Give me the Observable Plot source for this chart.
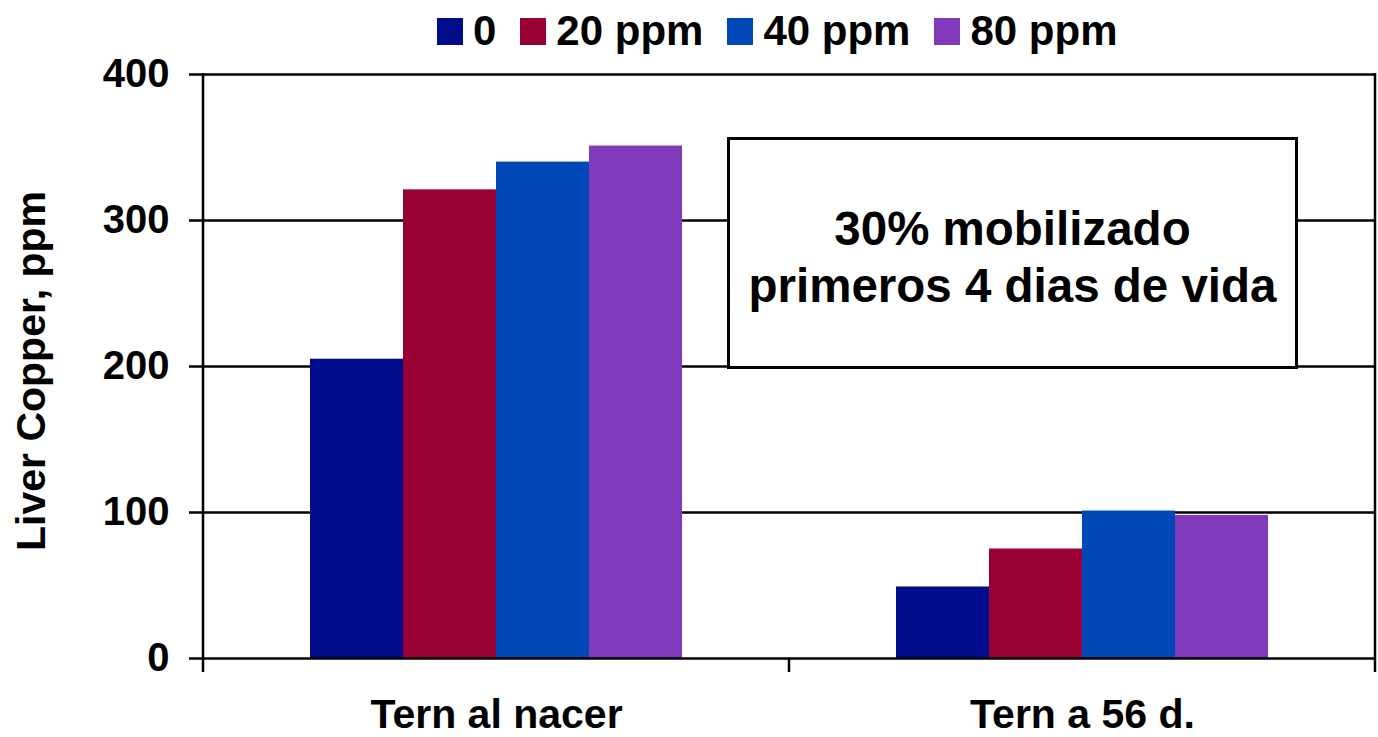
<!DOCTYPE html>
<html>
<head>
<meta charset="utf-8">
<script src="https://cdn.jsdelivr.net/npm/d3@7"></script>
<script src="https://cdn.jsdelivr.net/npm/@observablehq/plot@0.6"></script>
<style>
  html, body { margin: 0; padding: 0; background: #fff; }
  body { font-family: "Liberation Sans", Arial, sans-serif; font-weight: bold; color: #000; }
  #wrap { position: relative; width: 1378px; height: 737px; overflow: hidden; }
  #legend { position: relative; height: 50px; }
  .lg-sq { position: absolute; top: 18px; width: 26px; height: 27px; }
  .lg-tx { position: absolute; top: 10px; font-size: 42px; line-height: 42px; white-space: nowrap; }
  #chart svg { display: block; }
  #ylabel { position: absolute; left: 31px; top: 371px; font-size: 41px; line-height: 41px; white-space: nowrap;
            transform: translate(-50%, -50%) rotate(-90deg); }
  #note { position: absolute; left: 727px; top: 137px; width: 571px; height: 232px; box-sizing: border-box;
          border: 3px solid #000; background: #fff; display: flex; flex-direction: column;
          justify-content: center; align-items: center; padding-top: 8px; font-size: 47.5px; line-height: 57px; }
  #note span { display: block; white-space: nowrap; }
</style>
</head>
<body>
<div id="wrap">
  <div id="legend"></div>
  <div id="chart"></div>
  <div id="ylabel"></div>
  <div id="note"></div>
</div>
<script>
// ---- data ----
const categories = ["Tern al nacer", "Tern a 56 d."];
const seriesNames = ["0", "20 ppm", "40 ppm", "80 ppm"];
const nacerValues = [205, 321, 340, 351];
const day56Values = [49, 75, 101, 98];
const yTicks = [0, 100, 200, 300, 400];
const seriesColors = ["#000C8C", "#990033", "#0048B8", "#8039BB"];
const yLabel = "Liver Copper, ppm";
const noteLines = ["30% mobilizado", "primeros 4 dias de vida"];

const valuesByCategory = [nacerValues, day56Values];
const rows = categories.flatMap((c, i) =>
  seriesNames.map((s, j) => ({cat: c, series: s, value: valuesByCategory[i][j]}))
);

// ---- chart ----
const plot = Plot.plot({
  width: 1378,
  height: 687,
  marginTop: 24,
  marginBottom: 79,
  marginLeft: 203,
  marginRight: 3,
  style: {
    fontFamily: "'Liberation Sans', Arial, sans-serif",
    fontWeight: "bold",
    fontSize: "40px",
    color: "#000",
    background: "#fff",
    overflow: "visible"
  },
  fx: {domain: categories, padding: 0, label: null, tickSize: 0, tickPadding: 40},
  x: {domain: seriesNames, paddingInner: 0, paddingOuter: 1.15, axis: null},
  y: {domain: [0, 400], ticks: yTicks, tickSize: 14, tickPadding: 20, label: null},
  color: {domain: seriesNames, range: seriesColors},
  marks: [
    Plot.ruleY(yTicks.filter(v => v > 0), {stroke: "#000", strokeWidth: 2.5}),
    Plot.barY(rows, {fx: "cat", x: "series", y: "value", fill: "series"}),
    Plot.ruleY([0], {stroke: "#000", strokeWidth: 2.5})
  ]
});
document.getElementById("chart").appendChild(plot);

plot.querySelectorAll('[aria-label^="y-axis"] text').forEach(t => { t.style.fontSize = "40px"; });
plot.querySelectorAll('[aria-label^="fx-axis"] text').forEach(t => { t.style.fontSize = "41px"; });
plot.querySelectorAll('[aria-label^="y-axis"] path, [aria-label^="y-axis"] line').forEach(p => {
  p.setAttribute("stroke", "#000"); p.style.strokeWidth = "2.5";
});

// frame lines from the library's scales
const fx = plot.scale("fx"), ys = plot.scale("y");
const yTop = ys.apply(400), yBot = ys.apply(0);
const xL = fx.apply(categories[0]);
const xM = fx.apply(categories[1]);
const xR = fx.apply(categories[1]) + fx.bandwidth;
const g = d3.select(plot).append("g").attr("stroke", "#000").attr("stroke-width", 2.5);
g.append("line").attr("x1", xL).attr("x2", xL).attr("y1", yTop - 1).attr("y2", yBot + 14);
g.append("line").attr("x1", xR).attr("x2", xR).attr("y1", yTop - 1).attr("y2", yBot + 14);
g.append("line").attr("x1", xM).attr("x2", xM).attr("y1", yBot).attr("y2", yBot + 14);

// ---- legend ----
const legend = document.getElementById("legend");
let lx = 437;
seriesNames.forEach((s, i) => {
  const sq = document.createElement("div");
  sq.className = "lg-sq";
  sq.style.left = lx + "px";
  sq.style.background = seriesColors[i];
  legend.appendChild(sq);
  const tx = document.createElement("span");
  tx.className = "lg-tx";
  tx.textContent = s;
  tx.style.left = (lx + 36) + "px";
  legend.appendChild(tx);
  const w = tx.getBoundingClientRect().width;
  lx = lx + 36 + w + 24;
});

// ---- y label & note ----
document.getElementById("ylabel").textContent = yLabel;
const note = document.getElementById("note");
noteLines.forEach(line => {
  const sp = document.createElement("span");
  sp.textContent = line;
  note.appendChild(sp);
});
</script>
</body>
</html>
